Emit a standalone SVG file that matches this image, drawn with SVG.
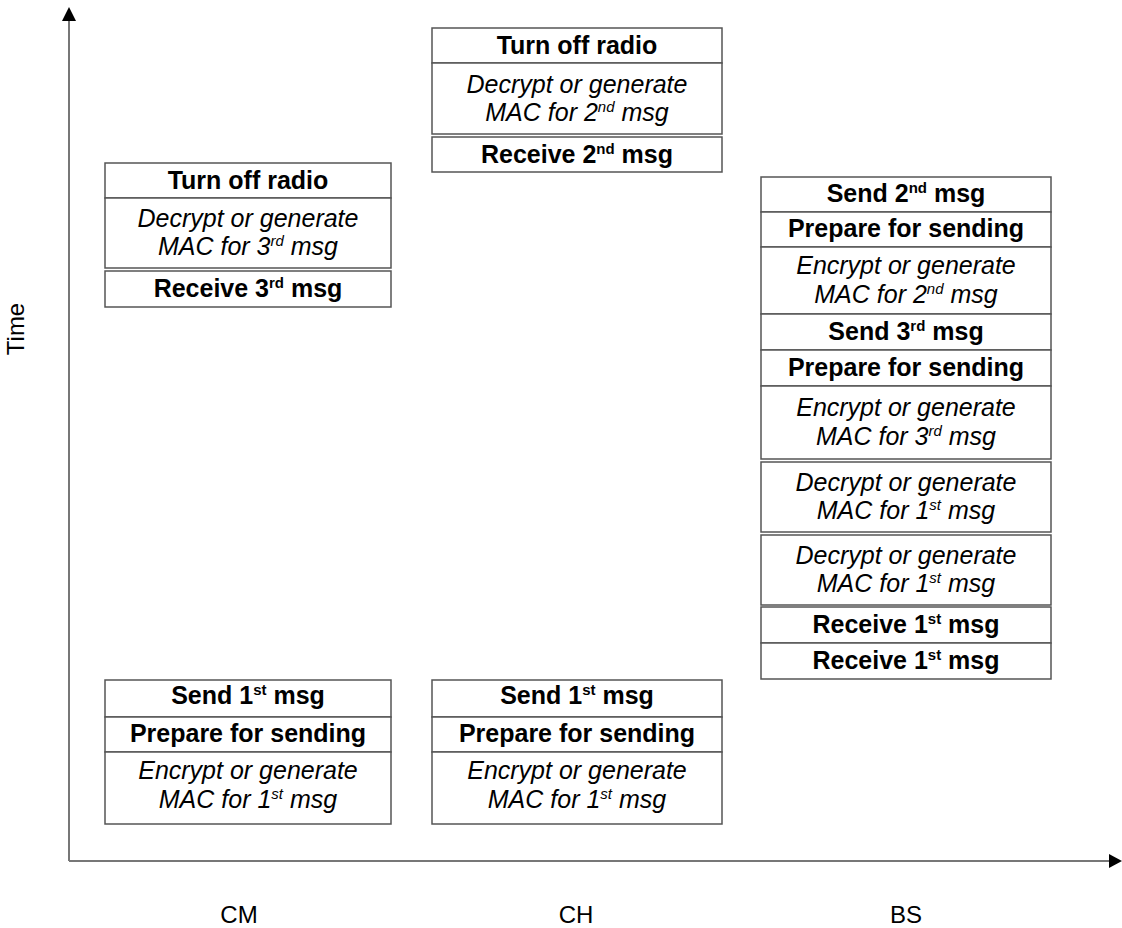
<svg xmlns="http://www.w3.org/2000/svg" width="1122" height="928" viewBox="0 0 1122 928">
<style>
.box{fill:#fff;stroke:#555;stroke-width:1.5}
.b{font-family:"Liberation Sans",Arial,sans-serif;font-weight:bold;font-size:25px;text-anchor:middle;fill:#000}
.i{font-family:"Liberation Sans",Arial,sans-serif;font-style:italic;font-size:25px;text-anchor:middle;fill:#000}
.lbl{font-family:"Liberation Sans",Arial,sans-serif;font-size:24px;text-anchor:middle;fill:#000}
.ax{stroke:#777;stroke-width:2;fill:none}
.sup{font-size:15px}
</style>
<rect width="1122" height="928" fill="#fff"/>
<g id="connectors">
<line class="ax" x1="69" y1="861" x2="69" y2="18"/>
<polygon points="69,7 62,21 76,21" fill="#000"/>
<line class="ax" x1="69" y1="861" x2="1112" y2="861"/>
<polygon points="1122,861 1109,854 1109,868" fill="#000"/>
</g>
<g id="labels">
<text class="lbl" x="239" y="923">CM</text>
<text class="lbl" x="576" y="923">CH</text>
<text class="lbl" x="906" y="923">BS</text>
<text class="lbl" font-size="21" transform="translate(24,329) rotate(-90)" x="0" y="0">Time</text>
</g>
<!-- CM top -->
<g id="cm-turnoff"><rect class="box" x="105" y="163" width="286" height="35"/><text class="b" x="248" y="188.5">Turn off radio</text></g>
<g id="cm-decrypt3"><rect class="box" x="105" y="198" width="286" height="70"/><text class="i" x="248" y="227">Decrypt or generate</text><text class="i" x="248" y="255">MAC for 3<tspan class="sup" dy="-9">rd</tspan><tspan dy="9"> msg</tspan></text></g>
<g id="cm-receive3"><rect class="box" x="105" y="271" width="286" height="36"/><text class="b" x="248" y="297">Receive 3<tspan class="sup" dy="-9">rd</tspan><tspan dy="9"> msg</tspan></text></g>
<!-- CH top -->
<g id="ch-turnoff"><rect class="box" x="432" y="28" width="290" height="35"/><text class="b" x="577" y="53.5">Turn off radio</text></g>
<g id="ch-decrypt2"><rect class="box" x="432" y="63" width="290" height="71"/><text class="i" x="577" y="92.5">Decrypt or generate</text><text class="i" x="577" y="120.5">MAC for 2<tspan class="sup" dy="-9">nd</tspan><tspan dy="9"> msg</tspan></text></g>
<g id="ch-receive2"><rect class="box" x="432" y="137" width="290" height="35"/><text class="b" x="577" y="162.5">Receive 2<tspan class="sup" dy="-9">nd</tspan><tspan dy="9"> msg</tspan></text></g>
<!-- BS -->
<g id="bs-send2"><rect class="box" x="761" y="177" width="290" height="35"/><text class="b" x="906" y="201.5">Send 2<tspan class="sup" dy="-9">nd</tspan><tspan dy="9"> msg</tspan></text></g>
<g id="bs-prepare1"><rect class="box" x="761" y="212" width="290" height="35"/><text class="b" x="906" y="236.5">Prepare for sending</text></g>
<g id="bs-encrypt2"><rect class="box" x="761" y="247" width="290" height="67"/><text class="i" x="906" y="274">Encrypt or generate</text><text class="i" x="906" y="303">MAC for 2<tspan class="sup" dy="-9">nd</tspan><tspan dy="9"> msg</tspan></text></g>
<g id="bs-send3"><rect class="box" x="761" y="314" width="290" height="36"/><text class="b" x="906" y="340">Send 3<tspan class="sup" dy="-9">rd</tspan><tspan dy="9"> msg</tspan></text></g>
<g id="bs-prepare2"><rect class="box" x="761" y="350" width="290" height="36"/><text class="b" x="906" y="376">Prepare for sending</text></g>
<g id="bs-encrypt3"><rect class="box" x="761" y="386" width="290" height="73"/><text class="i" x="906" y="416">Encrypt or generate</text><text class="i" x="906" y="444.5">MAC for 3<tspan class="sup" dy="-9">rd</tspan><tspan dy="9"> msg</tspan></text></g>
<g id="bs-decrypt1a"><rect class="box" x="761" y="462" width="290" height="70"/><text class="i" x="906" y="490.5">Decrypt or generate</text><text class="i" x="906" y="519">MAC for 1<tspan class="sup" dy="-9">st</tspan><tspan dy="9"> msg</tspan></text></g>
<g id="bs-decrypt1b"><rect class="box" x="761" y="535" width="290" height="70"/><text class="i" x="906" y="564">Decrypt or generate</text><text class="i" x="906" y="592">MAC for 1<tspan class="sup" dy="-9">st</tspan><tspan dy="9"> msg</tspan></text></g>
<g id="bs-receive1a"><rect class="box" x="761" y="607" width="290" height="36"/><text class="b" x="906" y="633">Receive 1<tspan class="sup" dy="-9">st</tspan><tspan dy="9"> msg</tspan></text></g>
<g id="bs-receive1b"><rect class="box" x="761" y="643" width="290" height="36"/><text class="b" x="906" y="668.5">Receive 1<tspan class="sup" dy="-9">st</tspan><tspan dy="9"> msg</tspan></text></g>
<!-- CM bottom -->
<g id="cm-send1"><rect class="box" x="105" y="680" width="286" height="37"/><text class="b" x="248" y="704">Send 1<tspan class="sup" dy="-9">st</tspan><tspan dy="9"> msg</tspan></text></g>
<g id="cm-prepare"><rect class="box" x="105" y="717" width="286" height="35"/><text class="b" x="248" y="742">Prepare for sending</text></g>
<g id="cm-encrypt1"><rect class="box" x="105" y="752" width="286" height="72"/><text class="i" x="248" y="779">Encrypt or generate</text><text class="i" x="248" y="807.5">MAC for 1<tspan class="sup" dy="-9">st</tspan><tspan dy="9"> msg</tspan></text></g>
<!-- CH bottom -->
<g id="ch-send1"><rect class="box" x="432" y="680" width="290" height="37"/><text class="b" x="577" y="704">Send 1<tspan class="sup" dy="-9">st</tspan><tspan dy="9"> msg</tspan></text></g>
<g id="ch-prepare"><rect class="box" x="432" y="717" width="290" height="35"/><text class="b" x="577" y="742">Prepare for sending</text></g>
<g id="ch-encrypt1"><rect class="box" x="432" y="752" width="290" height="72"/><text class="i" x="577" y="779">Encrypt or generate</text><text class="i" x="577" y="807.5">MAC for 1<tspan class="sup" dy="-9">st</tspan><tspan dy="9"> msg</tspan></text></g>
</svg>
